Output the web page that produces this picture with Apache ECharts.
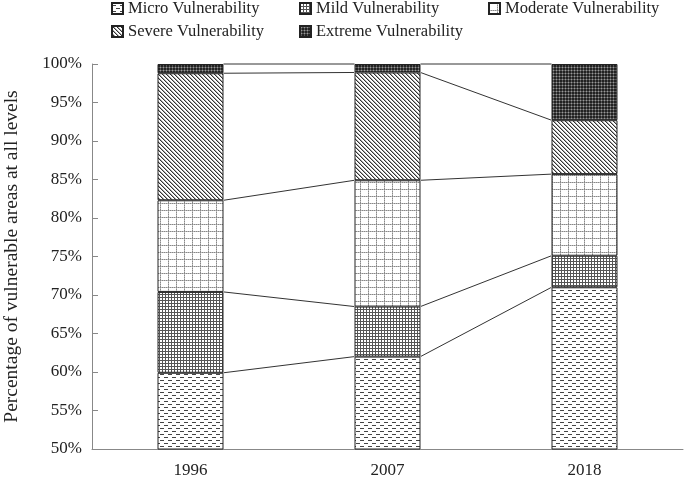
<html lang="en">
	<head>
		<meta charset="UTF-8" />
		<script src="https://cdn.jsdelivr.net/npm/echarts@6/dist/echarts.min.js"></script>
		<title>vulnerability</title>
		<style>
			* {
				padding: 0;
				margin: 0;
			}
		</style>
	</head>

	<body>
		<div id="main" style="width:685px;height:478px"></div>
		<script>
			// values (percent of area)
			var years = ["1996", "2007", "2018"]
			var micro = [59.9, 62.0, 71.0]
			var mild = [10.5, 6.5, 4.1]
			var moderate = [11.9, 16.4, 10.6]
			var severe = [16.5, 14.0, 7.0]
			var extreme = [1.2, 1.1, 7.3]
			var levelNames = [
				"Micro Vulnerability",
				"Mild Vulnerability",
				"Moderate Vulnerability",
				"Severe Vulnerability",
				"Extreme Vulnerability"
			]
			var levels = [micro, mild, moderate, severe, extreme]
			var yTicks = { min: 50, max: 100, step: 5 }

			var FONT = "'Liberation Serif', 'Times New Roman', serif"

			// little pixel tiles used as fill patterns
			function tile(w, h, fn) {
				var c = document.createElement("canvas")
				c.width = w
				c.height = h
				var ctx = c.getContext("2d")
				ctx.fillStyle = "#fff"
				ctx.fillRect(0, 0, w, h)
				for (var y = 0; y < h; y++) {
					for (var x = 0; x < w; x++) {
						var col = fn(x, y)
						if (col) {
							ctx.fillStyle = col
							ctx.fillRect(x, y, 1, 1)
						}
					}
				}
				return { image: c, repeat: "repeat" }
			}

			var patterns = [
				// dashes
				tile(8, 6, function(x, y) {
					if (y == 2 && x < 4) return "#444"
					if (y == 5 && x >= 4) return "#444"
				}),
				// dense grid
				tile(3, 3, function(x, y) {
					if (x == 0 || y == 0) return "#555"
				}),
				// light grid
				tile(8, 7, function(x, y) {
					if (x == 0) return y % 2 == 0 ? "#888" : "#bbb"
					if (y == 0) return x % 2 == 0 ? "#888" : "#bbb"
				}),
				// diagonal
				tile(4, 4, function(x, y) {
					var d = (x - y + 4) % 4
					if (d == 0) return "#333"
					if (d == 1) return "#aaa"
				}),
				// dark dots
				tile(3, 3, function(x, y) {
					return x == 1 && y == 1 ? "#999" : x == 1 || y == 1 ? "#555" : "#222"
				})
			]

			// cumulative tops for the connecting lines
			var cum = years.map(function(y, i) {
				var s = 0
				return levels.map(function(l) {
					s += l[i]
					return Math.round(s * 10) / 10
				})
			})
			var linkData = []
			for (var i = 0; i < years.length - 1; i++) {
				for (var k = 0; k < levels.length; k++) {
					linkData.push([i, cum[i][k], cum[i + 1][k]])
				}
			}

			var barFrac = 0.335
			var series = levels.map(function(l, k) {
				return {
					name: levelNames[k],
					type: "bar",
					stack: "all",
					barWidth: barFrac * 100 + "%",
					itemStyle: {
						color: patterns[k],
						borderColor: "#222",
						borderWidth: 1
					},
					emphasis: { disabled: true },
					data: l
				}
			})
			series.push({
				type: "custom",
				silent: true,
				renderItem: function(params, api) {
					var a = api.coord([api.value(0), api.value(1)])
					var b = api.coord([api.value(0) + 1, api.value(2)])
					var half = (api.size([1, 0])[0] * barFrac) / 2
					return {
						type: "line",
						shape: { x1: a[0] + half, y1: a[1], x2: b[0] - half, y2: b[1] },
						style: { stroke: "#333", lineWidth: 1 }
					}
				},
				encode: { x: 0, y: [1, 2] },
				data: linkData
			})

			var legendPos = [
				[111, 0],
				[299, 0],
				[488, 0],
				[111, 23],
				[299, 23]
			]
			var legends = levelNames.map(function(n, k) {
				return {
					data: [n],
					left: legendPos[k][0],
					top: legendPos[k][1],
					padding: 0,
					icon: "rect",
					itemWidth: 11,
					itemHeight: 11,
					itemGap: 5,
					selectedMode: false,
					textStyle: { fontFamily: FONT, fontSize: 16.5, color: "#222" }
				}
			})

			var option = {
				backgroundColor: "#fff",
				animation: false,
				legend: legends,
				grid: { left: 92, right: 2, top: 64, bottom: 29, outerBoundsMode: "none", containLabel: false },
				xAxis: [
					{
						type: "category",
						data: years,
						axisLine: { lineStyle: { color: "#888" } },
						axisTick: { inside: true, length: 8, lineStyle: { color: "#888" } },
						axisLabel: { fontFamily: FONT, fontSize: 17, color: "#222", margin: 13 }
					},
					{
						type: "category",
						data: years,
						position: "bottom",
						axisLine: { show: false },
						axisTick: { alignWithLabel: true, length: 4, lineStyle: { color: "#888" } },
						axisLabel: { show: false }
					}
				],
				yAxis: {
					type: "value",
					min: yTicks.min,
					max: yTicks.max,
					interval: yTicks.step,
					name: "Percentage of vulnerable areas at all levels",
					nameLocation: "middle",
					nameGap: 70,
					nameTextStyle: { fontFamily: FONT, fontSize: 19.5, color: "#222" },
					axisLine: { show: true, lineStyle: { color: "#888" } },
					axisTick: { show: true, inside: true, length: 6, lineStyle: { color: "#888" } },
					splitLine: { show: false },
					axisLabel: {
						fontFamily: FONT,
						fontSize: 17,
						color: "#222",
						margin: 10,
						formatter: "{value}%"
					}
				},
				series: series
			}

			var myChart = echarts.init(document.getElementById("main"))
			myChart.setOption(option)
		</script>
	</body>
</html>
